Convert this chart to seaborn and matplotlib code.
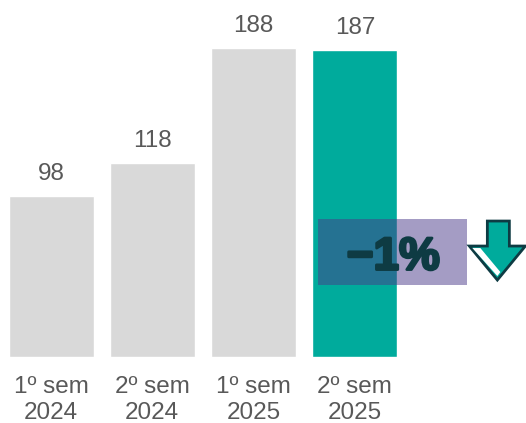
import matplotlib
matplotlib.use("Agg")
import matplotlib.pyplot as plt
import matplotlib.patheffects as pe
from matplotlib.patches import Rectangle, Polygon
import seaborn as sns

# data
periods = ["1º sem\n2024", "2º sem\n2024", "1º sem\n2025", "2º sem\n2025"]
values = [98, 118, 188, 187]
bar_colors = ["#d9d9d9", "#d9d9d9", "#d9d9d9", "#00ab9c"]
change_label = "\u22121%"

sns.set_style("white")
plt.rcParams['font.family'] = ['Liberation Sans', 'DejaVu Sans']

fig = plt.figure(figsize=(5.26, 4.23), dpi=100)
ax = fig.add_axes([0, 0.156, 1, 0.844])

sns.barplot(x=periods, y=values, hue=periods, palette=bar_colors,
            width=0.84, legend=False, saturation=1, ax=ax)

ax.set_xlim(-0.504, 4.69)
ax.set_ylim(0, 217.2)
for s in ax.spines.values():
    s.set_visible(False)
ax.set_yticks([])
ax.tick_params(axis='x', length=0, pad=14, labelsize=17.5, labelcolor='#595959')
for lbl in ax.get_xticklabels():
    lbl.set_linespacing(1.2)

for i, v in enumerate(values):
    ax.annotate(f'{v}', (i, v), xytext=(0, 8), textcoords='offset points',
                ha='center', va='bottom', fontsize=17.5, color='#595959')

# change box over the last bar
ax.add_patch(Rectangle((2.638, 43.8), 1.473, 40.1, facecolor='#4a3a8a',
                       alpha=0.5, edgecolor='none', zorder=3))
ax.text(3.38, 60.5, change_label, ha='center', va='center', fontsize=33,
        fontweight='bold', color='#0e3b43', zorder=4,
        path_effects=[pe.withStroke(linewidth=2, foreground='#0e3b43')])


# down arrow, drawn in pixel units (from top-left) converted to data
def px(x, y):
    return ((x - 51) / 101.2, (357 - y) / 1.644)


arrow = [px(487, 221), px(509, 221), px(509, 246), px(525, 246),
         px(497, 280), px(469, 246), px(487, 246)]
ax.add_patch(Polygon(arrow, closed=True, facecolor='#00ab9c',
                     edgecolor='#0e3b43', linewidth=2, zorder=4,
                     clip_on=False))
stripe = [px(472, 248), px(480, 248), px(500, 272), px(497, 276)]
ax.add_patch(Polygon(stripe, closed=True, facecolor='white',
                     edgecolor='none', zorder=5, clip_on=False))

fig.savefig('out.png', dpi=100)
